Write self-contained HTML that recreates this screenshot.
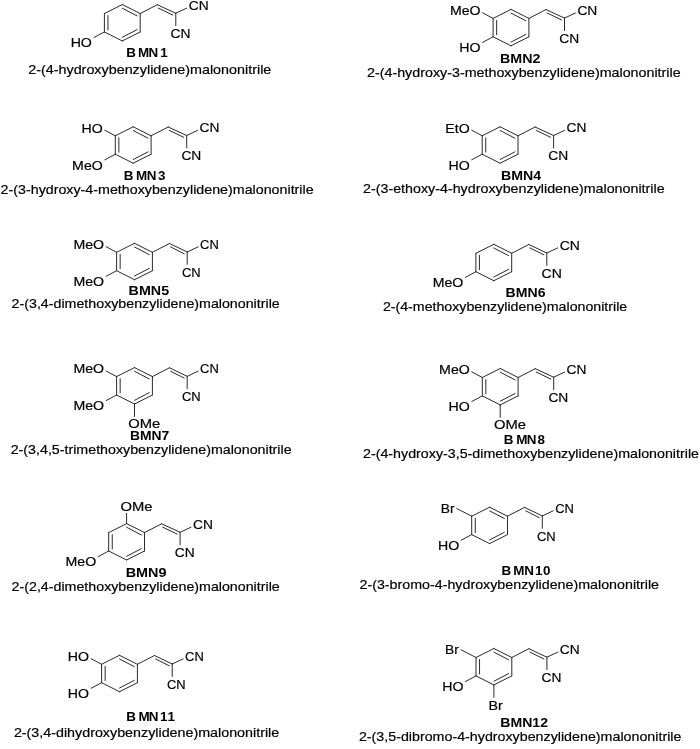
<!DOCTYPE html>
<html><head><meta charset="utf-8"><title>BMN compounds</title>
<style>
html,body{margin:0;padding:0;background:#fff;}
svg{display:block;filter:grayscale(1);}
line{stroke:#2b2b2b;stroke-width:1.0;stroke-linecap:round;}
text{font-family:"Liberation Sans",Arial,sans-serif;font-size:12px;fill:#000;}
text.a,text.n{stroke:#000;stroke-width:0.18px;}
text.b{font-weight:bold;fill:#000;}
</style></head><body>
<svg width="700" height="749" viewBox="0 0 700 749">
<rect width="700" height="749" fill="#fff"/>
<line x1="122.30" y1="4.55" x2="140.20" y2="13.55"/>
<line x1="140.20" y1="13.55" x2="140.20" y2="31.95"/>
<line x1="140.20" y1="31.95" x2="122.30" y2="40.95"/>
<line x1="122.30" y1="40.95" x2="104.40" y2="31.95"/>
<line x1="104.40" y1="31.95" x2="104.40" y2="13.55"/>
<line x1="104.40" y1="13.55" x2="122.30" y2="4.55"/>
<line x1="107.95" y1="15.60" x2="107.95" y2="29.90"/>
<line x1="122.36" y1="8.25" x2="137.10" y2="15.90"/>
<line x1="122.36" y1="37.25" x2="137.10" y2="29.60"/>
<line x1="140.20" y1="13.55" x2="157.30" y2="4.75"/>
<line x1="157.30" y1="4.75" x2="175.80" y2="13.25"/>
<line x1="158.40" y1="8.15" x2="172.80" y2="15.05"/>
<line x1="175.80" y1="13.25" x2="186.70" y2="8.15"/>
<line x1="175.80" y1="13.25" x2="175.80" y2="25.65"/>
<text class="a" transform="translate(188.70,9.85) scale(1.1500,1)">CN</text>
<text class="a" transform="translate(170.50,37.85) scale(1.1500,1)">CN</text>
<line x1="104.40" y1="31.95" x2="93.90" y2="37.55"/>
<text class="a" transform="translate(70.66,47.25) scale(1.1800,1)">HO</text>
<line x1="511.00" y1="9.40" x2="528.90" y2="18.40"/>
<line x1="528.90" y1="18.40" x2="528.90" y2="36.80"/>
<line x1="528.90" y1="36.80" x2="511.00" y2="45.80"/>
<line x1="511.00" y1="45.80" x2="493.10" y2="36.80"/>
<line x1="493.10" y1="36.80" x2="493.10" y2="18.40"/>
<line x1="493.10" y1="18.40" x2="511.00" y2="9.40"/>
<line x1="496.65" y1="20.45" x2="496.65" y2="34.75"/>
<line x1="511.06" y1="13.10" x2="525.80" y2="20.75"/>
<line x1="511.06" y1="42.10" x2="525.80" y2="34.45"/>
<line x1="528.90" y1="18.40" x2="546.00" y2="9.60"/>
<line x1="546.00" y1="9.60" x2="564.50" y2="18.10"/>
<line x1="547.10" y1="13.00" x2="561.50" y2="19.90"/>
<line x1="564.50" y1="18.10" x2="575.40" y2="13.00"/>
<line x1="564.50" y1="18.10" x2="564.50" y2="30.50"/>
<text class="a" transform="translate(577.40,14.70) scale(1.1500,1)">CN</text>
<text class="a" transform="translate(559.20,42.70) scale(1.1500,1)">CN</text>
<line x1="493.10" y1="18.40" x2="482.60" y2="12.80"/>
<text class="a" transform="translate(449.92,15.10) scale(1.1800,1)">MeO</text>
<line x1="493.10" y1="36.80" x2="482.60" y2="42.40"/>
<text class="a" transform="translate(459.36,52.10) scale(1.1800,1)">HO</text>
<line x1="133.20" y1="126.80" x2="151.10" y2="135.80"/>
<line x1="151.10" y1="135.80" x2="151.10" y2="154.20"/>
<line x1="151.10" y1="154.20" x2="133.20" y2="163.20"/>
<line x1="133.20" y1="163.20" x2="115.30" y2="154.20"/>
<line x1="115.30" y1="154.20" x2="115.30" y2="135.80"/>
<line x1="115.30" y1="135.80" x2="133.20" y2="126.80"/>
<line x1="118.85" y1="137.85" x2="118.85" y2="152.15"/>
<line x1="133.26" y1="130.50" x2="148.00" y2="138.15"/>
<line x1="133.26" y1="159.50" x2="148.00" y2="151.85"/>
<line x1="151.10" y1="135.80" x2="168.20" y2="127.00"/>
<line x1="168.20" y1="127.00" x2="186.70" y2="135.50"/>
<line x1="169.30" y1="130.40" x2="183.70" y2="137.30"/>
<line x1="186.70" y1="135.50" x2="197.60" y2="130.40"/>
<line x1="186.70" y1="135.50" x2="186.70" y2="147.90"/>
<text class="a" transform="translate(199.60,132.10) scale(1.1500,1)">CN</text>
<text class="a" transform="translate(181.40,160.10) scale(1.1500,1)">CN</text>
<line x1="115.30" y1="135.80" x2="104.80" y2="130.20"/>
<text class="a" transform="translate(81.56,132.50) scale(1.1800,1)">HO</text>
<line x1="115.30" y1="154.20" x2="104.80" y2="159.80"/>
<text class="a" transform="translate(72.12,169.50) scale(1.1800,1)">MeO</text>
<line x1="500.10" y1="126.80" x2="518.00" y2="135.80"/>
<line x1="518.00" y1="135.80" x2="518.00" y2="154.20"/>
<line x1="518.00" y1="154.20" x2="500.10" y2="163.20"/>
<line x1="500.10" y1="163.20" x2="482.20" y2="154.20"/>
<line x1="482.20" y1="154.20" x2="482.20" y2="135.80"/>
<line x1="482.20" y1="135.80" x2="500.10" y2="126.80"/>
<line x1="485.75" y1="137.85" x2="485.75" y2="152.15"/>
<line x1="500.16" y1="130.50" x2="514.90" y2="138.15"/>
<line x1="500.16" y1="159.50" x2="514.90" y2="151.85"/>
<line x1="518.00" y1="135.80" x2="535.10" y2="127.00"/>
<line x1="535.10" y1="127.00" x2="553.60" y2="135.50"/>
<line x1="536.20" y1="130.40" x2="550.60" y2="137.30"/>
<line x1="553.60" y1="135.50" x2="564.50" y2="130.40"/>
<line x1="553.60" y1="135.50" x2="553.60" y2="147.90"/>
<text class="a" transform="translate(566.50,132.10) scale(1.1500,1)">CN</text>
<text class="a" transform="translate(548.30,160.10) scale(1.1500,1)">CN</text>
<line x1="482.20" y1="135.80" x2="471.70" y2="130.20"/>
<text class="a" transform="translate(445.33,132.50) scale(1.1800,1)">EtO</text>
<line x1="482.20" y1="154.20" x2="471.70" y2="159.80"/>
<text class="a" transform="translate(448.46,169.50) scale(1.1800,1)">HO</text>
<line x1="134.50" y1="243.30" x2="152.40" y2="252.30"/>
<line x1="152.40" y1="252.30" x2="152.40" y2="270.70"/>
<line x1="152.40" y1="270.70" x2="134.50" y2="279.70"/>
<line x1="134.50" y1="279.70" x2="116.60" y2="270.70"/>
<line x1="116.60" y1="270.70" x2="116.60" y2="252.30"/>
<line x1="116.60" y1="252.30" x2="134.50" y2="243.30"/>
<line x1="120.15" y1="254.35" x2="120.15" y2="268.65"/>
<line x1="134.56" y1="247.00" x2="149.30" y2="254.65"/>
<line x1="134.56" y1="276.00" x2="149.30" y2="268.35"/>
<line x1="152.40" y1="252.30" x2="169.50" y2="243.50"/>
<line x1="169.50" y1="243.50" x2="187.20" y2="252.00"/>
<line x1="170.60" y1="246.90" x2="184.20" y2="253.80"/>
<line x1="187.20" y1="252.00" x2="198.10" y2="246.90"/>
<line x1="187.20" y1="252.00" x2="187.20" y2="264.40"/>
<text class="a" transform="translate(200.10,248.60) scale(1.0800,1)">CN</text>
<text class="a" transform="translate(181.90,276.60) scale(1.0800,1)">CN</text>
<line x1="116.60" y1="252.30" x2="106.10" y2="246.70"/>
<text class="a" transform="translate(73.42,249.00) scale(1.1800,1)">MeO</text>
<line x1="116.60" y1="270.70" x2="106.10" y2="276.30"/>
<text class="a" transform="translate(73.42,286.00) scale(1.1800,1)">MeO</text>
<line x1="493.80" y1="244.30" x2="511.70" y2="253.30"/>
<line x1="511.70" y1="253.30" x2="511.70" y2="271.70"/>
<line x1="511.70" y1="271.70" x2="493.80" y2="280.70"/>
<line x1="493.80" y1="280.70" x2="475.90" y2="271.70"/>
<line x1="475.90" y1="271.70" x2="475.90" y2="253.30"/>
<line x1="475.90" y1="253.30" x2="493.80" y2="244.30"/>
<line x1="479.45" y1="255.35" x2="479.45" y2="269.65"/>
<line x1="493.86" y1="248.00" x2="508.60" y2="255.65"/>
<line x1="493.86" y1="277.00" x2="508.60" y2="269.35"/>
<line x1="511.70" y1="253.30" x2="528.80" y2="244.50"/>
<line x1="528.80" y1="244.50" x2="546.80" y2="253.00"/>
<line x1="529.90" y1="247.90" x2="543.80" y2="254.80"/>
<line x1="546.80" y1="253.00" x2="557.70" y2="247.90"/>
<line x1="546.80" y1="253.00" x2="546.80" y2="265.40"/>
<text class="a" transform="translate(559.70,249.60) scale(1.1700,1)">CN</text>
<text class="a" transform="translate(541.50,277.60) scale(1.1700,1)">CN</text>
<line x1="475.90" y1="271.70" x2="465.40" y2="277.30"/>
<text class="a" transform="translate(432.72,287.00) scale(1.1800,1)">MeO</text>
<line x1="134.50" y1="367.60" x2="152.40" y2="376.60"/>
<line x1="152.40" y1="376.60" x2="152.40" y2="395.00"/>
<line x1="152.40" y1="395.00" x2="134.50" y2="404.00"/>
<line x1="134.50" y1="404.00" x2="116.60" y2="395.00"/>
<line x1="116.60" y1="395.00" x2="116.60" y2="376.60"/>
<line x1="116.60" y1="376.60" x2="134.50" y2="367.60"/>
<line x1="120.15" y1="378.65" x2="120.15" y2="392.95"/>
<line x1="134.56" y1="371.30" x2="149.30" y2="378.95"/>
<line x1="134.56" y1="400.30" x2="149.30" y2="392.65"/>
<line x1="152.40" y1="376.60" x2="169.50" y2="367.80"/>
<line x1="169.50" y1="367.80" x2="187.20" y2="376.30"/>
<line x1="170.60" y1="371.20" x2="184.20" y2="378.10"/>
<line x1="187.20" y1="376.30" x2="198.10" y2="371.20"/>
<line x1="187.20" y1="376.30" x2="187.20" y2="388.70"/>
<text class="a" transform="translate(200.10,372.90) scale(1.0800,1)">CN</text>
<text class="a" transform="translate(181.90,400.90) scale(1.0800,1)">CN</text>
<line x1="116.60" y1="376.60" x2="106.10" y2="371.00"/>
<text class="a" transform="translate(73.42,373.30) scale(1.1800,1)">MeO</text>
<line x1="116.60" y1="395.00" x2="106.10" y2="400.60"/>
<text class="a" transform="translate(73.42,410.30) scale(1.1800,1)">MeO</text>
<line x1="134.50" y1="404.00" x2="134.50" y2="416.40"/>
<text class="a" transform="translate(128.30,428.30) scale(1.2300,1)">OMe</text>
<line x1="500.20" y1="368.50" x2="518.10" y2="377.50"/>
<line x1="518.10" y1="377.50" x2="518.10" y2="395.90"/>
<line x1="518.10" y1="395.90" x2="500.20" y2="404.90"/>
<line x1="500.20" y1="404.90" x2="482.30" y2="395.90"/>
<line x1="482.30" y1="395.90" x2="482.30" y2="377.50"/>
<line x1="482.30" y1="377.50" x2="500.20" y2="368.50"/>
<line x1="485.85" y1="379.55" x2="485.85" y2="393.85"/>
<line x1="500.26" y1="372.20" x2="515.00" y2="379.85"/>
<line x1="500.26" y1="401.20" x2="515.00" y2="393.55"/>
<line x1="518.10" y1="377.50" x2="535.20" y2="368.70"/>
<line x1="535.20" y1="368.70" x2="553.70" y2="377.20"/>
<line x1="536.30" y1="372.10" x2="550.70" y2="379.00"/>
<line x1="553.70" y1="377.20" x2="564.60" y2="372.10"/>
<line x1="553.70" y1="377.20" x2="553.70" y2="389.60"/>
<text class="a" transform="translate(566.60,373.80) scale(1.1500,1)">CN</text>
<text class="a" transform="translate(548.40,401.80) scale(1.1500,1)">CN</text>
<line x1="482.30" y1="377.50" x2="471.80" y2="371.90"/>
<text class="a" transform="translate(439.12,374.20) scale(1.1800,1)">MeO</text>
<line x1="482.30" y1="395.90" x2="471.80" y2="401.50"/>
<text class="a" transform="translate(448.56,411.20) scale(1.1800,1)">HO</text>
<line x1="500.20" y1="404.90" x2="500.20" y2="417.30"/>
<text class="a" transform="translate(494.00,429.20) scale(1.2300,1)">OMe</text>
<line x1="126.60" y1="523.60" x2="144.50" y2="532.60"/>
<line x1="144.50" y1="532.60" x2="144.50" y2="551.00"/>
<line x1="144.50" y1="551.00" x2="126.60" y2="560.00"/>
<line x1="126.60" y1="560.00" x2="108.70" y2="551.00"/>
<line x1="108.70" y1="551.00" x2="108.70" y2="532.60"/>
<line x1="108.70" y1="532.60" x2="126.60" y2="523.60"/>
<line x1="112.25" y1="534.65" x2="112.25" y2="548.95"/>
<line x1="126.66" y1="527.30" x2="141.40" y2="534.95"/>
<line x1="126.66" y1="556.30" x2="141.40" y2="548.65"/>
<line x1="144.50" y1="532.60" x2="161.60" y2="523.80"/>
<line x1="161.60" y1="523.80" x2="180.10" y2="532.30"/>
<line x1="162.70" y1="527.20" x2="177.10" y2="534.10"/>
<line x1="180.10" y1="532.30" x2="191.00" y2="527.20"/>
<line x1="180.10" y1="532.30" x2="180.10" y2="544.70"/>
<text class="a" transform="translate(193.00,528.90) scale(1.1500,1)">CN</text>
<text class="a" transform="translate(174.80,556.90) scale(1.1500,1)">CN</text>
<line x1="108.70" y1="551.00" x2="98.20" y2="556.60"/>
<text class="a" transform="translate(65.52,566.30) scale(1.1800,1)">MeO</text>
<line x1="126.60" y1="523.60" x2="126.60" y2="513.30"/>
<text class="a" transform="translate(120.60,510.80) scale(1.2300,1)">OMe</text>
<line x1="489.60" y1="507.20" x2="507.50" y2="516.20"/>
<line x1="507.50" y1="516.20" x2="507.50" y2="534.60"/>
<line x1="507.50" y1="534.60" x2="489.60" y2="543.60"/>
<line x1="489.60" y1="543.60" x2="471.70" y2="534.60"/>
<line x1="471.70" y1="534.60" x2="471.70" y2="516.20"/>
<line x1="471.70" y1="516.20" x2="489.60" y2="507.20"/>
<line x1="475.25" y1="518.25" x2="475.25" y2="532.55"/>
<line x1="489.66" y1="510.90" x2="504.40" y2="518.55"/>
<line x1="489.66" y1="539.90" x2="504.40" y2="532.25"/>
<line x1="507.50" y1="516.20" x2="524.60" y2="507.40"/>
<line x1="524.60" y1="507.40" x2="542.30" y2="515.90"/>
<line x1="525.70" y1="510.80" x2="539.30" y2="517.70"/>
<line x1="542.30" y1="515.90" x2="553.20" y2="510.80"/>
<line x1="542.30" y1="515.90" x2="542.30" y2="528.30"/>
<text class="a" transform="translate(555.20,512.50) scale(1.0800,1)">CN</text>
<text class="a" transform="translate(537.00,540.50) scale(1.0800,1)">CN</text>
<line x1="471.70" y1="516.20" x2="456.80" y2="508.50"/>
<text class="a" transform="translate(440.80,513.00) scale(1.1500,1)">Br</text>
<line x1="471.70" y1="534.60" x2="461.20" y2="540.20"/>
<text class="a" transform="translate(437.96,549.90) scale(1.1800,1)">HO</text>
<line x1="119.50" y1="655.30" x2="137.40" y2="664.30"/>
<line x1="137.40" y1="664.30" x2="137.40" y2="682.70"/>
<line x1="137.40" y1="682.70" x2="119.50" y2="691.70"/>
<line x1="119.50" y1="691.70" x2="101.60" y2="682.70"/>
<line x1="101.60" y1="682.70" x2="101.60" y2="664.30"/>
<line x1="101.60" y1="664.30" x2="119.50" y2="655.30"/>
<line x1="105.15" y1="666.35" x2="105.15" y2="680.65"/>
<line x1="119.56" y1="659.00" x2="134.30" y2="666.65"/>
<line x1="119.56" y1="688.00" x2="134.30" y2="680.35"/>
<line x1="137.40" y1="664.30" x2="154.50" y2="655.50"/>
<line x1="154.50" y1="655.50" x2="172.20" y2="664.00"/>
<line x1="155.60" y1="658.90" x2="169.20" y2="665.80"/>
<line x1="172.20" y1="664.00" x2="183.10" y2="658.90"/>
<line x1="172.20" y1="664.00" x2="172.20" y2="676.40"/>
<text class="a" transform="translate(185.10,660.60) scale(1.0800,1)">CN</text>
<text class="a" transform="translate(166.90,688.60) scale(1.0800,1)">CN</text>
<line x1="101.60" y1="664.30" x2="91.10" y2="658.70"/>
<text class="a" transform="translate(67.86,661.00) scale(1.1800,1)">HO</text>
<line x1="101.60" y1="682.70" x2="91.10" y2="688.30"/>
<text class="a" transform="translate(67.86,698.00) scale(1.1800,1)">HO</text>
<line x1="493.90" y1="648.50" x2="511.80" y2="657.50"/>
<line x1="511.80" y1="657.50" x2="511.80" y2="675.90"/>
<line x1="511.80" y1="675.90" x2="493.90" y2="684.90"/>
<line x1="493.90" y1="684.90" x2="476.00" y2="675.90"/>
<line x1="476.00" y1="675.90" x2="476.00" y2="657.50"/>
<line x1="476.00" y1="657.50" x2="493.90" y2="648.50"/>
<line x1="479.55" y1="659.55" x2="479.55" y2="673.85"/>
<line x1="493.96" y1="652.20" x2="508.70" y2="659.85"/>
<line x1="493.96" y1="681.20" x2="508.70" y2="673.55"/>
<line x1="511.80" y1="657.50" x2="528.90" y2="648.70"/>
<line x1="528.90" y1="648.70" x2="546.90" y2="657.20"/>
<line x1="530.00" y1="652.10" x2="543.90" y2="659.00"/>
<line x1="546.90" y1="657.20" x2="557.80" y2="652.10"/>
<line x1="546.90" y1="657.20" x2="546.90" y2="669.60"/>
<text class="a" transform="translate(559.80,653.80) scale(1.1500,1)">CN</text>
<text class="a" transform="translate(541.60,681.80) scale(1.1500,1)">CN</text>
<line x1="476.00" y1="657.50" x2="461.10" y2="649.80"/>
<text class="a" transform="translate(445.10,654.30) scale(1.1500,1)">Br</text>
<line x1="476.00" y1="675.90" x2="465.50" y2="681.50"/>
<text class="a" transform="translate(442.26,691.20) scale(1.1800,1)">HO</text>
<line x1="493.90" y1="684.90" x2="493.90" y2="697.30"/>
<text class="a" transform="translate(488.40,709.80) scale(1.1900,1)">Br</text>
<text class="b" x="112.77 123.21 132.50 143.12" transform="translate(0,56.60) scale(1.1200,1)">BMN1</text>
<text class="b" transform="translate(500.00,62.70) scale(1.1912,1)">BMN2</text>
<text class="b" x="110.54 121.43 130.98 140.98" transform="translate(0,179.60) scale(1.1200,1)">BMN3</text>
<text class="b" transform="translate(501.00,179.60) scale(1.1824,1)">BMN4</text>
<text class="b" transform="translate(128.60,295.40) scale(1.1912,1)">BMN5</text>
<text class="b" transform="translate(505.60,297.00) scale(1.1735,1)">BMN6</text>
<text class="b" transform="translate(130.00,440.40) scale(1.1588,1)">BMN7</text>
<text class="b" x="449.82 460.98 470.27 479.82" transform="translate(0,444.00) scale(1.1200,1)">BMN8</text>
<text class="b" transform="translate(125.70,576.90) scale(1.2000,1)">BMN9</text>
<text class="b" x="447.86 458.21 468.12 477.59 484.73" transform="translate(0,574.70) scale(1.1200,1)">BMN10</text>
<text class="b" x="112.77 123.75 132.77 142.95 149.55" transform="translate(0,720.70) scale(1.1200,1)">BMN11</text>
<text class="b" transform="translate(500.30,726.70) scale(1.1744,1)">BMN12</text>
<text class="n" transform="translate(28.20,74.00) scale(1.1959,1)">2-(4-hydroxybenzylidene)malononitrile</text>
<text class="n" transform="translate(367.00,76.70) scale(1.1915,1)">2-(4-hydroxy-3-methoxybenzylidene)malononitrile</text>
<text class="n" transform="translate(0.60,194.40) scale(1.1892,1)">2-(3-hydroxy-4-methoxybenzylidene)malononitrile</text>
<text class="n" transform="translate(363.00,193.40) scale(1.1904,1)">2-(3-ethoxy-4-hydroxybenzylidene)malononitrile</text>
<text class="n" transform="translate(11.60,307.80) scale(1.1868,1)">2-(3,4-dimethoxybenzylidene)malononitrile</text>
<text class="n" transform="translate(382.90,310.90) scale(1.1833,1)">2-(4-methoxybenzylidene)malononitrile</text>
<text class="n" transform="translate(10.70,454.00) scale(1.1883,1)">2-(3,4,5-trimethoxybenzylidene)malononitrile</text>
<text class="n" transform="translate(363.00,457.70) scale(1.1892,1)">2-(4-hydroxy-3,5-dimethoxybenzylidene)malononitrile</text>
<text class="n" transform="translate(11.60,591.00) scale(1.1868,1)">2-(2,4-dimethoxybenzylidene)malononitrile</text>
<text class="n" transform="translate(359.50,589.00) scale(1.1892,1)">2-(3-bromo-4-hydroxybenzylidene)malononitrile</text>
<text class="n" transform="translate(13.90,737.10) scale(1.1925,1)">2-(3,4-dihydroxybenzylidene)malononitrile</text>
<text class="n" transform="translate(358.90,740.80) scale(1.1892,1)">2-(3,5-dibromo-4-hydroxybenzylidene)malononitrile</text>
</svg>
</body></html>
